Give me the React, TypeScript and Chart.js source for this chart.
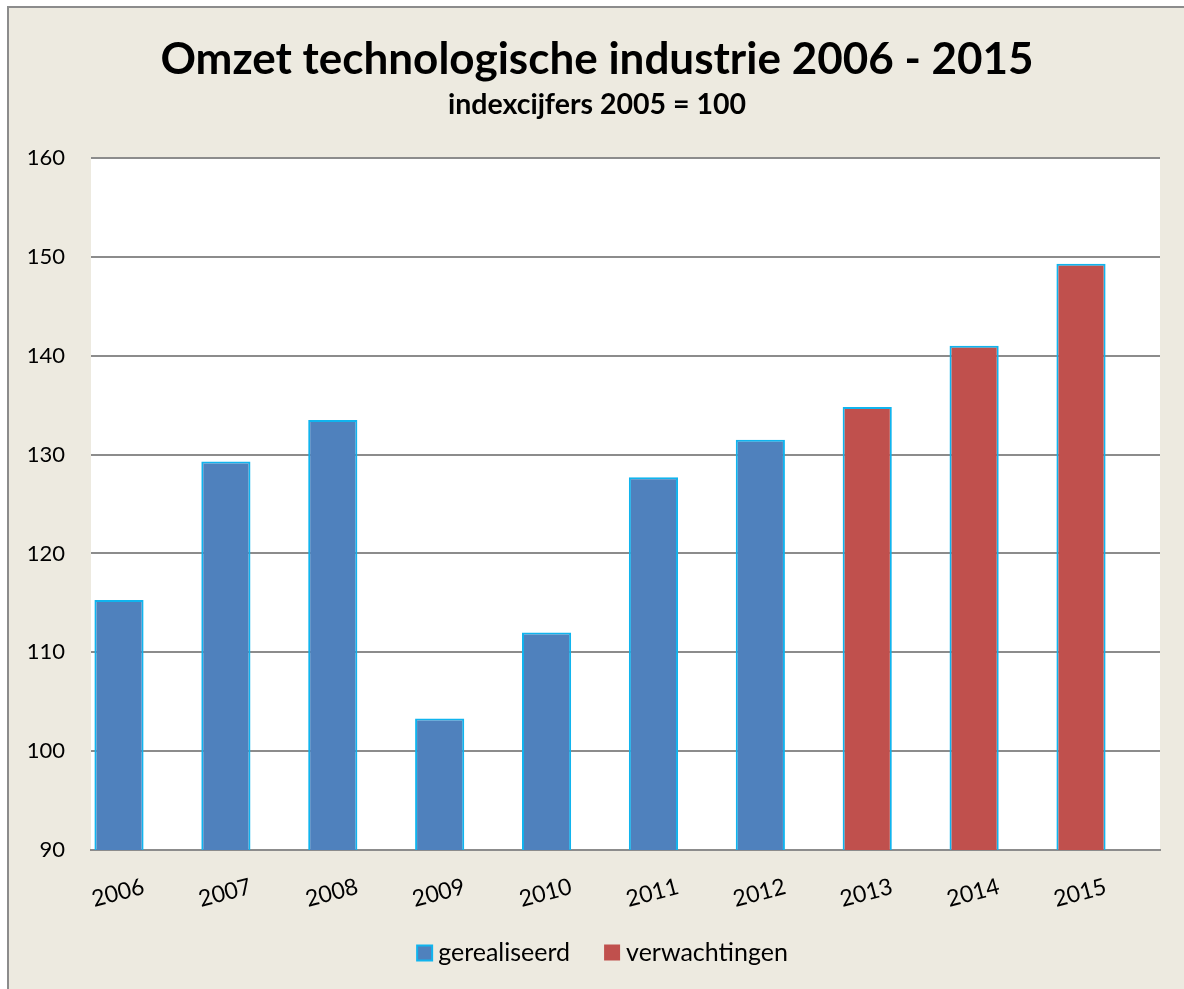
import React, { useEffect, useRef } from "react";
import { Chart, registerables } from "chart.js";

Chart.register(...registerables);

const years = ["2006", "2007", "2008", "2009", "2010", "2011", "2012", "2013", "2014", "2015"];
const realised = [115.3, 129.3, 133.5, 103.3, 112.0, 127.7, 131.5, null, null, null];
const expected = [null, null, null, null, null, null, null, 134.8, 141.0, 149.3];
const seriesNames = ["gerealiseerd", "verwachtingen"];
const yMin = 90;
const yMax = 160;
const yStep = 10;
// category axis range (index units) – the bars sit slightly left of centre in the plot
const xMin = -0.262;
const xMax = 9.739;
const titleText = "Omzet technologische industrie 2006 - 2015";
const subtitleText = "indexcijfers 2005 = 100";

const BG = "#EDEAE0";
const BLUE = "#4F81BD";
const RED = "#C0504D";
const CYAN = "#10B4EE";
const GRID = "#8C8C8C";
const FONT = "Lato, 'Open Sans', sans-serif";

const W = 1177;
const H = 983;

const toPoints = (vals: (number | null)[]) =>
  vals.map((v, i) => (v === null ? null : { x: i, y: v })).filter((p) => p !== null);

const decor = {
  id: "decor",
  beforeDraw(chart: any) {
    const { ctx, width, height, chartArea: a } = chart;
    ctx.save();
    ctx.fillStyle = BG;
    ctx.fillRect(0, 0, width, height);
    ctx.fillStyle = "#ffffff";
    ctx.fillRect(a.left, a.top, a.right - a.left, a.bottom - a.top);
    ctx.strokeStyle = "#8C8C8C";
    ctx.lineWidth = 2;
    ctx.beginPath();
    ctx.moveTo(1, height);
    ctx.lineTo(1, 1);
    ctx.lineTo(width, 1);
    ctx.stroke();
    ctx.restore();
  },
  afterDraw(chart: any) {
    const { ctx, chartArea: a } = chart;
    const xs = chart.scales.x;
    ctx.save();
    ctx.fillStyle = "#000000";
    ctx.font = `23px ${FONT}`;
    ctx.textAlign = "center";
    ctx.textBaseline = "middle";
    years.forEach((lab, i) => {
      const px = xs.getPixelForValue(i);
      ctx.save();
      ctx.translate(px - 1, a.bottom + 43);
      ctx.rotate((-15 * Math.PI) / 180);
      ctx.fillText(lab, 0, 0);
      ctx.restore();
    });

    // legend
    ctx.font = `25px ${FONT}`;
    ctx.textAlign = "left";
    const box = 17;
    const gapText = 5;
    const gapItem = 34;
    const w1 = ctx.measureText(seriesNames[0]).width;
    const w2 = ctx.measureText(seriesNames[1]).width;
    const total = box + gapText + w1 + gapItem + box + gapText + w2;
    const cy = 947;
    let x = chart.width / 2 + 6.5 - total / 2;
    ctx.fillStyle = CYAN;
    ctx.fillRect(x, cy - box / 2, box, box);
    ctx.fillStyle = BLUE;
    ctx.fillRect(x + 2, cy - box / 2 + 2, box - 4, box - 4);
    x += box + gapText;
    ctx.fillStyle = "#000000";
    ctx.fillText(seriesNames[0], x, cy);
    x += w1 + gapItem;
    ctx.fillStyle = RED;
    ctx.fillRect(x, cy - box / 2, box - 1, box - 1);
    x += box + gapText;
    ctx.fillStyle = "#000000";
    ctx.fillText(seriesNames[1], x, cy);
    ctx.restore();
  },
};

export default function App() {
  const ref = useRef<HTMLCanvasElement | null>(null);

  useEffect(() => {
    document.documentElement.style.overflow = "hidden";
    document.body.style.overflow = "hidden";
    (document.documentElement.style as any).scrollbarWidth = "none";
    const canvas = ref.current;
    if (!canvas) return;
    const chart = new Chart(canvas, {
      type: "bar",
      data: {
        datasets: [
          {
            label: seriesNames[0],
            data: toPoints(realised),
            backgroundColor: BLUE,
            borderColor: CYAN,
            borderWidth: 2,
            grouped: false,
            barPercentage: 0.46,
            categoryPercentage: 1,
          },
          {
            label: seriesNames[1],
            data: toPoints(expected),
            backgroundColor: RED,
            borderColor: CYAN,
            borderWidth: 2,
            grouped: false,
            barPercentage: 0.46,
            categoryPercentage: 1,
          },
        ],
      } as any,
      options: {
        animation: false,
        responsive: false,
        layout: { padding: { left: 3, right: 0, top: 0, bottom: 139 } },
        plugins: {
          legend: { display: false },
          tooltip: { enabled: false },
          title: {
            display: true,
            text: titleText,
            color: "#000000",
            font: { family: FONT, size: 44, weight: "bold", lineHeight: 1.2 },
            padding: { top: 27.6, bottom: 1.8 },
          },
          subtitle: {
            display: true,
            text: subtitleText,
            color: "#000000",
            font: { family: FONT, size: 28.5, weight: "bold", lineHeight: 1.2 },
            padding: { top: 0, bottom: 35.6 },
          },
        },
        scales: {
          x: {
            type: "linear",
            min: xMin,
            max: xMax,
            offset: false,
            grid: { display: false, drawTicks: false },
            border: { display: true, color: GRID, width: 2 },
            ticks: { display: false },
            afterFit(scale: any) {
              scale.height = 0;
            },
          },
          y: {
            min: yMin,
            max: yMax,
            ticks: {
              stepSize: yStep,
              color: "#000000",
              padding: 26,
              font: { family: FONT, size: 22 },
            },
            grid: { color: GRID, lineWidth: 2, drawTicks: false },
            border: { display: false },
            afterFit(scale: any) {
              scale.width = 81;
            },
          },
          spacer: {
            type: "linear",
            position: "right",
            display: true,
            ticks: { display: false },
            grid: { display: false, drawTicks: false },
            border: { display: false },
            afterFit(scale: any) {
              scale.width = 24;
            },
          },
        },
      } as any,
      plugins: [decor],
    });
    return () => chart.destroy();
  }, []);

  return (
    <div style={{ position: "fixed", left: 7, top: 6, width: W, height: H }}>
      <canvas ref={ref} width={W} height={H} style={{ display: "block" }} />
    </div>
  );
}
